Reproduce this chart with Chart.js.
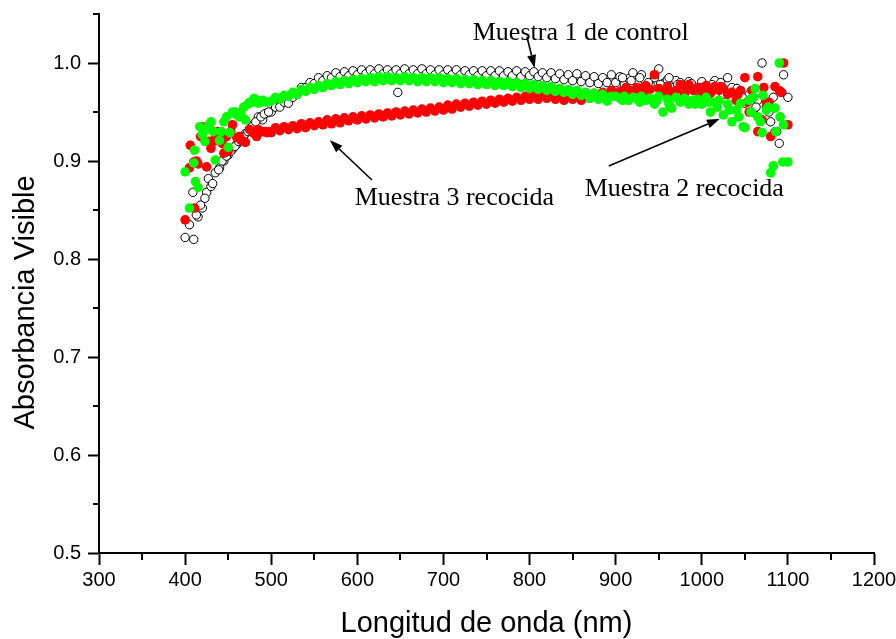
<!DOCTYPE html>
<html>
<head>
<meta charset="utf-8">
<script src="https://cdn.jsdelivr.net/npm/chart.js@4/dist/chart.umd.min.js"></script>
<style>
  html, body { margin: 0; padding: 0; background: #fff; }
  #caja { width: 896px; height: 639px; }
</style>
</head>
<body>
<div id="caja"><canvas id="grafico"></canvas></div>
<script>
// --- DATOS ---
const longitudes = [
  400, 405, 410, 415, 420, 425, 430, 435, 440, 445,
  450, 455, 460, 465, 470, 475, 480, 485, 490, 495,
  500, 505, 510, 515, 520, 525, 530, 535, 540, 545,
  550, 555, 560, 565, 570, 575, 580, 585, 590, 595,
  600, 605, 610, 615, 620, 625, 630, 635, 640, 645,
  650, 655, 660, 665, 670, 675, 680, 685, 690, 695,
  700, 705, 710, 715, 720, 725, 730, 735, 740, 745,
  750, 755, 760, 765, 770, 775, 780, 785, 790, 795,
  800, 805, 810, 815, 820, 825, 830, 835, 840, 845,
  850, 855, 860, 865, 870, 875, 880, 885, 890, 895,
  900, 905, 910, 915, 920, 925, 930, 935, 940, 945,
  950, 955, 960, 965, 970, 975, 980, 985, 990, 995,
  1000, 1005, 1010, 1015, 1020, 1025, 1030, 1035, 1040, 1045,
  1050, 1055, 1060, 1065, 1070, 1075, 1080, 1085, 1090, 1095,
  1100
];

// Muestra 1 de control (círculos abiertos)
const muestra1 = [
  0.822, 0.835, 0.820, 0.843, 0.852, 0.868, 0.874, 0.888, 0.893, 0.900,
  0.906, 0.912, 0.917, 0.922, 0.928, 0.933, 0.938, 0.945, 0.942, 0.949,
  0.950, 0.955, 0.955, 0.960, 0.959, 0.965, 0.968, 0.975, 0.975, 0.980,
  0.979, 0.985, 0.982, 0.987, 0.985, 0.990, 0.986, 0.991, 0.987, 0.992,
  0.988, 0.993, 0.989, 0.993, 0.989, 0.994, 0.989, 0.993, 0.989, 0.993,
  0.989, 0.994, 0.989, 0.993, 0.989, 0.994, 0.989, 0.993, 0.988, 0.993,
  0.988, 0.993, 0.988, 0.993, 0.988, 0.992, 0.988, 0.992, 0.987, 0.992,
  0.987, 0.992, 0.987, 0.992, 0.987, 0.991, 0.987, 0.992, 0.986, 0.991,
  0.987, 0.991, 0.986, 0.990, 0.985, 0.990, 0.984, 0.989, 0.983, 0.988,
  0.982, 0.989, 0.981, 0.987, 0.980, 0.986, 0.979, 0.985, 0.980, 0.988,
  0.980, 0.986, 0.978, 0.984, 0.990, 0.980, 0.988, 0.976, 0.978, 0.985,
  0.994, 0.979, 0.983, 0.975, 0.982, 0.980, 0.974, 0.981, 0.976, 0.972,
  0.981, 0.975, 0.970, 0.982, 0.974, 0.968, 0.985, 0.972, 0.974, 0.963,
  0.959, 0.968, 0.950, 0.962, 1.000, 0.955, 0.940, 0.930, 0.918, 0.988,
  0.965
];

// Muestra 3 recocida (rojo)
const muestra3 = [
  0.840, 0.893, 0.899, 0.897, 0.935, 0.894, 0.913, 0.924, 0.928, 0.908,
  0.910, 0.937, 0.924, 0.921, 0.919, 0.932, 0.928, 0.932, 0.930, 0.929,
  0.929, 0.934, 0.931, 0.935, 0.932, 0.936, 0.933, 0.938, 0.934, 0.939,
  0.936, 0.940, 0.937, 0.942, 0.938, 0.943, 0.939, 0.944, 0.941, 0.945,
  0.942, 0.946, 0.943, 0.947, 0.944, 0.948, 0.945, 0.949, 0.946, 0.950,
  0.947, 0.951, 0.948, 0.952, 0.949, 0.953, 0.950, 0.954, 0.951, 0.955,
  0.952, 0.957, 0.953, 0.958, 0.955, 0.959, 0.956, 0.960, 0.957, 0.961,
  0.958, 0.962, 0.959, 0.963, 0.960, 0.964, 0.961, 0.965, 0.962, 0.966,
  0.963, 0.967, 0.963, 0.968, 0.964, 0.967, 0.963, 0.968, 0.962, 0.967,
  0.963, 0.966, 0.962, 0.967, 0.964, 0.969, 0.966, 0.970, 0.967, 0.972,
  0.968, 0.971, 0.969, 0.970, 0.972, 0.975, 0.970, 0.977, 0.973, 0.988,
  0.974, 0.971, 0.976, 0.970, 0.972, 0.978, 0.969, 0.978, 0.972, 0.975,
  0.970, 0.977, 0.969, 0.976, 0.972, 0.974, 0.968, 0.970, 0.962, 0.972,
  0.985, 0.950, 0.965, 0.986, 0.942, 0.960, 0.925, 0.976, 0.972, 1.000,
  0.937
];

// Muestra 2 recocida (verde)
const muestra2 = [
  0.889, 0.852, 0.898, 0.873, 0.927, 0.932, 0.940, 0.901, 0.921, 0.940,
  0.914, 0.950, 0.947, 0.950, 0.942, 0.960, 0.964, 0.959, 0.962, 0.960,
  0.961, 0.965, 0.963, 0.967, 0.966, 0.970, 0.968, 0.973, 0.971, 0.975,
  0.973, 0.977, 0.975, 0.979, 0.977, 0.981, 0.978, 0.982, 0.979, 0.983,
  0.980, 0.984, 0.981, 0.985, 0.981, 0.986, 0.982, 0.986, 0.982, 0.985,
  0.982, 0.986, 0.982, 0.985, 0.981, 0.985, 0.981, 0.985, 0.981, 0.985,
  0.980, 0.984, 0.980, 0.984, 0.979, 0.983, 0.979, 0.983, 0.978, 0.982,
  0.978, 0.982, 0.977, 0.981, 0.977, 0.981, 0.976, 0.980, 0.975, 0.979,
  0.974, 0.978, 0.973, 0.977, 0.972, 0.976, 0.971, 0.974, 0.970, 0.973,
  0.968, 0.972, 0.967, 0.970, 0.964, 0.969, 0.963, 0.968, 0.961, 0.966,
  0.966, 0.964, 0.966, 0.962, 0.965, 0.963, 0.966, 0.962, 0.964, 0.958,
  0.966, 0.950, 0.963, 0.954, 0.965, 0.960, 0.964, 0.958, 0.962, 0.963,
  0.958, 0.965, 0.950, 0.960, 0.962, 0.947, 0.958, 0.940, 0.952, 0.959,
  0.934, 0.962, 0.965, 0.945, 0.929, 0.952, 0.888, 0.954, 1.000, 0.937,
  0.899
];

// puntos sueltos fuera de la rejilla de 5 nm
const extraX1 = [409, 413, 418, 423, 427, 432, 439, 443, 448, 453, 458, 462, 468, 473, 478, 482, 488, 492, 497,
  647, 908, 918, 928, 938, 952, 962, 972, 988, 998, 1012, 1022, 1035, 1041, 1047, 1055, 1063, 1078, 1083, 1087, 1093];
const extraY1 = [0.868, 0.845, 0.855, 0.862, 0.882, 0.877, 0.891, 0.900, 0.905, 0.910, 0.915, 0.920, 0.925, 0.930, 0.935, 0.940, 0.945, 0.948, 0.950,
  0.970, 0.985, 0.982, 0.985, 0.980, 0.978, 0.985, 0.978, 0.979, 0.975, 0.978, 0.980, 0.975, 0.974, 0.965, 0.962, 0.955, 0.950, 0.965, 0.930, 0.970];
const extraX3 = [406, 411, 413, 418, 427, 433, 438, 443, 448, 453, 463, 468, 478, 483, 488, 493, 498,
  912, 932, 958, 982, 1002, 1022, 1042, 1053, 1058, 1065, 1072, 1078, 1092];
const extraY3 = [0.916, 0.852, 0.900, 0.925, 0.920, 0.920, 0.930, 0.918, 0.925, 0.930, 0.925, 0.920, 0.930, 0.925, 0.930, 0.930, 0.930,
  0.975, 0.970, 0.968, 0.975, 0.973, 0.976, 0.968, 0.960, 0.972, 0.930, 0.975, 0.960, 0.970];
const extraX2 = [411, 412, 417, 423, 428, 433, 442, 448, 452, 458, 463, 468, 473, 478, 483, 488,
  908, 928, 948, 962, 978, 992, 1008, 1018, 1032, 1043, 1048, 1057, 1062, 1068, 1071, 1077, 1083, 1086, 1091, 1094];
const extraY2 = [0.911, 0.879, 0.935, 0.920, 0.937, 0.930, 0.930, 0.945, 0.929, 0.950, 0.945, 0.955, 0.958, 0.960, 0.962, 0.960,
  0.962, 0.960, 0.962, 0.958, 0.962, 0.958, 0.960, 0.955, 0.952, 0.945, 0.935, 0.950, 0.974, 0.940, 0.967, 0.955, 0.895, 0.930, 0.945, 0.899];

// ticks menores
const menoresX = [350, 450, 550, 650, 750, 850, 950, 1050, 1150];
const menoresY = [0.55, 0.65, 0.75, 0.85, 0.95, 1.05];

const tituloY = 'Absorbancia Visible';

// --- ANOTACIONES (en unidades de los ejes) ---
const notas = [
  { texto: 'Muestra 1 de control', x: 734, y: 1.0235, desde: [797, 1.0265], hasta: [806, 0.995] },
  { texto: 'Muestra 3 recocida',   x: 597, y: 0.855,  desde: [617, 0.8806], hasta: [568, 0.9214] },
  { texto: 'Muestra 2 recocida',   x: 864, y: 0.864,  desde: [892, 0.895],  hasta: [1021, 0.943] }
];

function armarPuntos(xs, ys, exX, exY) {
  const pts = xs.map((x, i) => ({ x: x, y: ys[i] }));
  exX.forEach((x, i) => pts.push({ x: x, y: exY[i] }));
  return pts;
}

const pluginTicksMenores = {
  id: 'ticksMenores',
  afterDraw(chart) {
    const ctx = chart.ctx;
    const sx = chart.scales.x, sy = chart.scales.y;
    const area = chart.chartArea;
    ctx.save();
    ctx.strokeStyle = '#000';
    ctx.lineWidth = 2;
    ctx.beginPath();
    menoresX.forEach(v => {
      const px = Math.round(sx.getPixelForValue(v));
      ctx.moveTo(px, area.bottom);
      ctx.lineTo(px, area.bottom + 7);
    });
    menoresY.forEach(v => {
      const py = Math.round(sy.getPixelForValue(v));
      ctx.moveTo(area.left - 6, py);
      ctx.lineTo(area.left, py);
    });
    ctx.stroke();

    // título del eje Y, algo por debajo del centro como en la figura
    ctx.fillStyle = '#000';
    ctx.font = '29px "Liberation Sans", Arial, sans-serif';
    ctx.textAlign = 'center';
    ctx.textBaseline = 'middle';
    ctx.translate(area.left - 73, (area.top + area.bottom) / 2 + 19);
    ctx.rotate(-Math.PI / 2);
    ctx.fillText(tituloY, 0, 0);
    ctx.restore();
  }
};

const pluginNotas = {
  id: 'notas',
  afterDatasetsDraw(chart) {
    const ctx = chart.ctx;
    const sx = chart.scales.x, sy = chart.scales.y;
    ctx.save();
    ctx.fillStyle = '#000';
    ctx.strokeStyle = '#000';
    ctx.font = '26px "Liberation Serif", "Times New Roman", serif';
    ctx.textAlign = 'left';
    ctx.textBaseline = 'alphabetic';
    notas.forEach(n => {
      ctx.fillText(n.texto, sx.getPixelForValue(n.x), sy.getPixelForValue(n.y));
      const x0 = sx.getPixelForValue(n.desde[0]), y0 = sy.getPixelForValue(n.desde[1]);
      const x1 = sx.getPixelForValue(n.hasta[0]), y1 = sy.getPixelForValue(n.hasta[1]);
      const ang = Math.atan2(y1 - y0, x1 - x0);
      const largo = 13, ancho = 4.5;
      const bx = x1 - largo * Math.cos(ang), by = y1 - largo * Math.sin(ang);
      ctx.lineWidth = 1.6;
      ctx.beginPath();
      ctx.moveTo(x0, y0);
      ctx.lineTo(bx, by);
      ctx.stroke();
      ctx.beginPath();
      ctx.moveTo(x1, y1);
      ctx.lineTo(bx + ancho * Math.sin(ang), by - ancho * Math.cos(ang));
      ctx.lineTo(bx - ancho * Math.sin(ang), by + ancho * Math.cos(ang));
      ctx.closePath();
      ctx.fill();
    });
    ctx.restore();
  }
};

const fuenteEje = { family: '"Liberation Sans", Arial, sans-serif', size: 20 };
const fuenteTitulo = { family: '"Liberation Sans", Arial, sans-serif', size: 29, lineHeight: 1 };

new Chart(document.getElementById('grafico'), {
  type: 'scatter',
  data: {
    datasets: [
      {
        label: 'Muestra 2 recocida',
        data: armarPuntos(longitudes, muestra2, extraX2, extraY2),
        backgroundColor: '#00ff00',
        borderWidth: 0,
        pointRadius: 4.8
      },
      {
        label: 'Muestra 3 recocida',
        data: armarPuntos(longitudes, muestra3, extraX3, extraY3),
        backgroundColor: '#ff0000',
        borderWidth: 0,
        pointRadius: 4.8
      },
      {
        label: 'Muestra 1 de control',
        data: armarPuntos(longitudes, muestra1, extraX1, extraY1),
        backgroundColor: '#ffffff',
        borderColor: '#000000',
        borderWidth: 1,
        pointRadius: 4.2
      }
    ]
  },
  options: {
    responsive: true,
    maintainAspectRatio: false,
    animation: false,
    layout: { padding: { top: 14, right: 22, left: 0, bottom: 0 }, autoPadding: false },
    plugins: {
      legend: { display: false },
      tooltip: { enabled: false }
    },
    scales: {
      x: {
        type: 'linear',
        min: 300,
        max: 1200,
        afterFit: s => {
          s.height = 86;
          s.paddingLeft = 0;
          s.paddingRight = 0;
        },
        ticks: { stepSize: 100, color: '#000', font: fuenteEje, padding: 3, maxRotation: 0, callback: v => String(v) },
        grid: { drawOnChartArea: false, tickLength: 12, tickColor: '#000', tickWidth: 2 },
        border: { display: true, color: '#000', width: 2 },
        title: { display: true, text: 'Longitud de onda (nm)', color: '#000', font: fuenteTitulo, padding: { top: 0, bottom: 1 } }
      },
      y: {
        min: 0.5,
        max: 1.05,
        afterFit: s => {
          s.width = 99;
          s.paddingTop = 0;
          s.paddingBottom = 0;
        },
        ticks: {
          stepSize: 0.1,
          includeBounds: false,
          color: '#000',
          font: fuenteEje,
          padding: 7,
          callback: v => v.toFixed(1)
        },
        grid: { drawOnChartArea: false, tickLength: 11, tickColor: '#000', tickWidth: 2 },
        border: { display: true, color: '#000', width: 2 },
        title: { display: false }
      }
    }
  },
  plugins: [pluginTicksMenores, pluginNotas]
});
</script>
</body>
</html>
